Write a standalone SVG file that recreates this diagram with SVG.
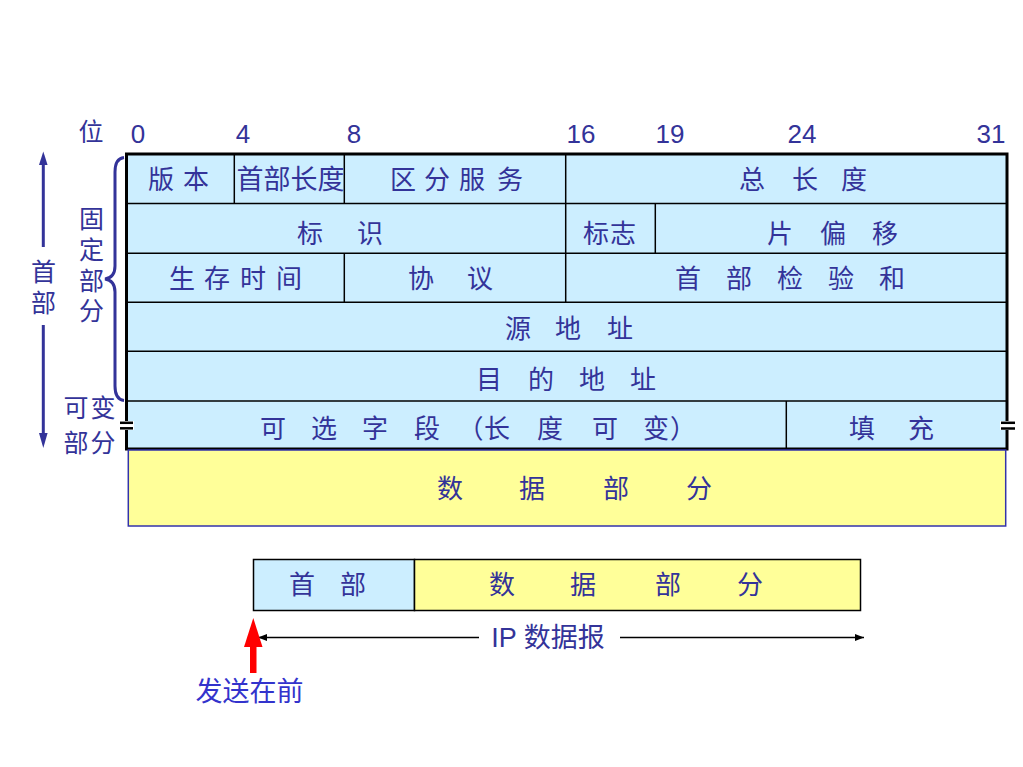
<svg xmlns="http://www.w3.org/2000/svg" width="1023" height="767" viewBox="0 0 1023 767">
<style>
.cj{font-family:"Noto Sans CJK SC","Noto Sans",sans-serif;fill:#333399;text-anchor:middle}
.f26{font-size:26px}
.f25{font-size:25px}
.f27{font-size:27px}
.num{font-family:"Liberation Sans",Arial,sans-serif;font-size:26px;fill:#333399;text-anchor:middle}
.cell{fill:#cceeff;stroke:none}
.data{fill:#ffff99;stroke:#3333aa;stroke-width:1.5}
.ln{stroke:#000;stroke-width:1.5;fill:none}
.frame{stroke:#000;stroke-width:3;fill:none}
.blue{stroke:#333399;stroke-width:3;fill:none}
</style>
<defs>
<marker id="ah" markerUnits="userSpaceOnUse" markerWidth="9" markerHeight="7" refX="9" refY="3.5" orient="auto">
<path d="M0,0 L9,3.5 L0,7 z" fill="#000"/>
</marker>
</defs>
<rect width="1023" height="767" fill="#fff"/>

<g id="bit-labels">
<text class="cj f25" x="91" y="141">位</text>
<text class="num" x="138" y="143">0</text>
<text class="num" x="243" y="143">4</text>
<text class="num" x="354" y="143">8</text>
<text class="num" x="581" y="143">16</text>
<text class="num" x="670" y="143">19</text>
<text class="num" x="802" y="143">24</text>
<text class="num" x="991" y="143">31</text>
</g>

<g id="header">
<rect class="cell" x="126.5" y="154" width="880.5" height="295"/>
<g id="row-lines">
<line class="ln" x1="126.5" y1="203.5" x2="1007" y2="203.5"/>
<line class="ln" x1="126.5" y1="253.3" x2="1007" y2="253.3"/>
<line class="ln" x1="126.5" y1="302.3" x2="1007" y2="302.3"/>
<line class="ln" x1="126.5" y1="351.3" x2="1007" y2="351.3"/>
<line class="ln" x1="126.5" y1="401" x2="1007" y2="401"/>
<line class="ln" x1="234.3" y1="154" x2="234.3" y2="203.5"/>
<line class="ln" x1="344.3" y1="154" x2="344.3" y2="203.5"/>
<line class="ln" x1="565.7" y1="154" x2="565.7" y2="302.3"/>
<line class="ln" x1="655.3" y1="203.5" x2="655.3" y2="253.3"/>
<line class="ln" x1="344.3" y1="253.3" x2="344.3" y2="302.3"/>
<line class="ln" x1="786.3" y1="401" x2="786.3" y2="449"/>
</g>
<rect class="frame" x="126.5" y="154" width="880.5" height="295"/>
<g id="break-marks">
<rect x="119" y="421" width="15" height="9" fill="#fff"/>
<line x1="120" y1="422.8" x2="133" y2="422.8" stroke="#000" stroke-width="2.5"/>
<line x1="120" y1="428.3" x2="133" y2="428.3" stroke="#000" stroke-width="2.5"/>
<rect x="1000" y="421" width="16" height="9" fill="#fff"/>
<line x1="1001" y1="422.8" x2="1015" y2="422.8" stroke="#000" stroke-width="2.5"/>
<line x1="1001" y1="428.5" x2="1015" y2="428.5" stroke="#000" stroke-width="2.5"/>
</g>
</g>

<g id="version"><text class="cj f26" x="161 196" y="189">版本</text></g>
<g id="ihl"><text class="cj f27" x="250 277 304 331" y="189">首部长度</text></g>
<g id="ds"><text class="cj f26" x="403 437 472 510" y="189">区分服务</text></g>
<g id="total-length"><text class="cj f26" x="752 805 854" y="189">总长度</text></g>
<g id="identification"><text class="cj f26" x="310 370" y="242.5">标识</text></g>
<g id="flags"><text class="cj f26" x="596 623" y="242.5">标志</text></g>
<g id="fragment-offset"><text class="cj f26" x="780 833 885" y="242.5">片偏移</text></g>
<g id="ttl"><text class="cj f26" x="182 217 253 289" y="288">生存时间</text></g>
<g id="protocol"><text class="cj f26" x="421 480" y="288">协议</text></g>
<g id="checksum"><text class="cj f26" x="688 739 790 841 892" y="288">首部检验和</text></g>
<g id="src"><text class="cj f26" x="518 568 620" y="338">源地址</text></g>
<g id="dst"><text class="cj f26" x="489 541 592 643" y="389">目的地址</text></g>
<g id="options"><text class="cj f26" x="273 324 375 427 470.5 497 550 605 656 683" y="438">可选字段（长度可变）</text></g>
<g id="padding"><text class="cj f26" x="862 921" y="438">填充</text></g>

<g id="data-part">
<rect class="data" x="128.3" y="450" width="877.4" height="76"/>
<text class="cj f26" x="450 532 616 699" y="498">数据部分</text>
</g>

<g id="side-labels">
<text class="cj f25" x="43.5 43.5" y="281 312">首部</text>
<text class="cj f25" x="91.5 91.5 91.5 91.5" y="228 259 290 320">固定部分</text>
<text class="cj f25" x="76 103" y="417">可变</text>
<text class="cj f25" x="76 103" y="452">部分</text>
</g>

<g id="brace">
<path class="blue" stroke-width="2.8" d="M124,157.5 Q115,158.5 115,172 L115,266 Q115,277.5 105,279 Q115,280.5 115,292 L115,386 Q115,399.5 124,400.5"/>
</g>

<g id="datagram">
<g id="dg-header">
<rect x="253.5" y="559.5" width="161" height="51" fill="#cceeff" stroke="#000" stroke-width="1.5"/>
<text class="cj f26" x="302 353" y="594">首部</text>
</g>
<g id="dg-data">
<rect x="414.5" y="559.5" width="446" height="51" fill="#ffff99" stroke="#000" stroke-width="1.5"/>
<text class="cj f26" x="502 583 668 750" y="594">数据部分</text>
</g>
<text x="548" y="647" font-family="'Liberation Sans','Noto Sans CJK SC',sans-serif" font-size="27" fill="#333399" text-anchor="middle">IP 数据报</text>
<text x="209 236 263 290" y="701" font-family="'Noto Sans CJK SC',sans-serif" font-size="27" fill="#3333cc" text-anchor="middle">发送在前</text>
</g>

<g id="connectors">
<line x1="479" y1="637.5" x2="258" y2="637.5" stroke="#000" stroke-width="1.3" marker-end="url(#ah)"/>
<line x1="620" y1="637.5" x2="864" y2="637.5" stroke="#000" stroke-width="1.3" marker-end="url(#ah)"/>
<rect x="250" y="645" width="6.5" height="28" fill="#ff0000"/>
<polygon points="244,647 262.5,647 253.3,618" fill="#ff0000"/>
<line x1="43.3" y1="247" x2="43.3" y2="163" stroke="#333399" stroke-width="3"/>
<polygon points="39,165 47.6,165 43.3,151.5" fill="#333399"/>
<line x1="43.3" y1="325" x2="43.3" y2="435" stroke="#333399" stroke-width="3"/>
<polygon points="39,433 47.6,433 43.3,448" fill="#333399"/>
</g>
</svg>
